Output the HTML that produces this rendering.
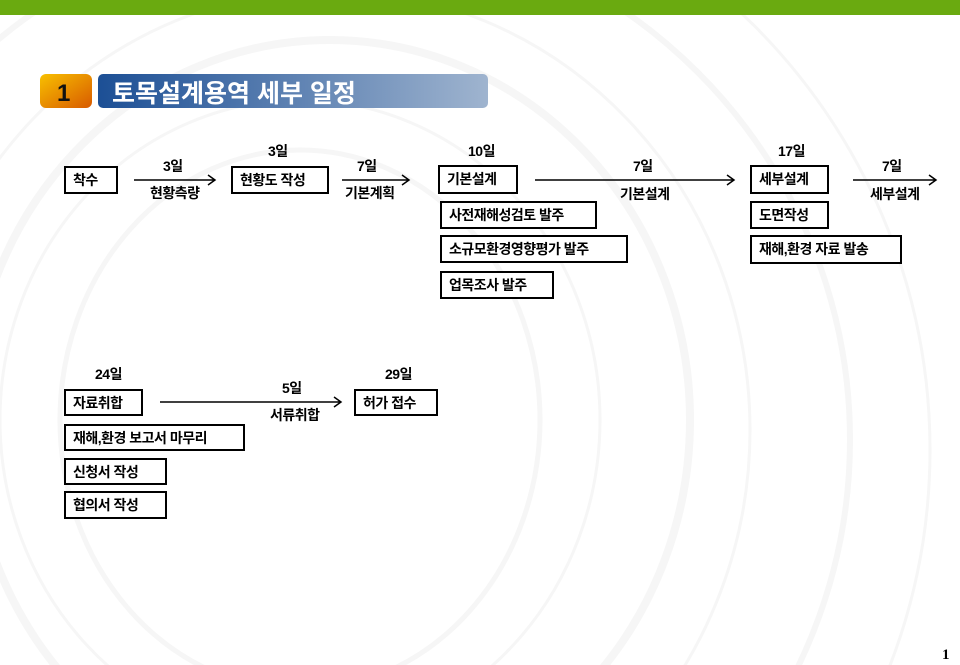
<!DOCTYPE html>
<html><head><meta charset="utf-8"><style>
html,body{margin:0;width:960px;height:665px;overflow:hidden}
body{position:relative;background:#fff;font-family:"Liberation Sans","Noto Sans CJK KR","NanumGothic",sans-serif;}
.b{position:absolute;border:2px solid #000;box-sizing:border-box;font-weight:bold;font-size:14px;line-height:24px;padding-left:7px;color:#000;background:#fff;white-space:nowrap;letter-spacing:-0.5px}
.t{position:absolute;font-weight:bold;font-size:14px;line-height:16px;color:#000;white-space:nowrap;letter-spacing:-0.5px}
</style></head><body>
<svg width="960" height="665" style="position:absolute;left:0;top:0">
<g fill="none" stroke="#f6f6f6">
<ellipse cx="300" cy="420" rx="240" ry="270" stroke-width="5"/>
<ellipse cx="300" cy="420" rx="300" ry="320" stroke-width="3"/>
<ellipse cx="330" cy="420" rx="360" ry="380" stroke-width="8"/>
<ellipse cx="330" cy="430" rx="420" ry="440" stroke-width="3"/>
<ellipse cx="330" cy="440" rx="520" ry="520" stroke-width="6"/>
<ellipse cx="330" cy="450" rx="600" ry="600" stroke-width="3"/>
</g>
<rect x="0" y="0" width="960" height="15" fill="#6aaa10"/>
<defs>
<linearGradient id="o" x1="0" y1="0" x2="1" y2="1"><stop offset="0" stop-color="#f8c000"/><stop offset="1" stop-color="#d85a00"/></linearGradient>
<linearGradient id="bl" x1="0" x2="1"><stop offset="0" stop-color="#1c4f95"/><stop offset="1" stop-color="#9fb4cf"/></linearGradient>
</defs>
<rect x="40" y="74" width="52" height="34" rx="6" fill="url(#o)"/>
<rect x="98" y="74" width="390" height="34" rx="5" fill="url(#bl)"/>
<text x="57" y="101" font-family="Liberation Sans" font-weight="bold" font-size="24" fill="#111">1</text>
<text x="112" y="102" font-family="Liberation Sans,Noto Sans CJK KR,sans-serif" font-weight="bold" font-size="25" fill="#fff">토목설계용역 세부 일정</text>
<g stroke="#000" stroke-width="1.5" fill="none">
<path d="M134 180H214M208 175L215 180L208 185"/>
<path d="M342 180H408M402 175L409 180L402 185"/>
<path d="M535 180H733M727 175L734 180L727 185"/>
<path d="M853 180H935M929 175L936 180L929 185"/>
<path d="M160 402H340M334 397L341 402L334 407"/>
</g>
</svg>
<div class="b" style="left:64px;top:166px;width:54px;height:28px">착수</div>
<div class="b" style="left:231px;top:166px;width:98px;height:28px">현황도 작성</div>
<div class="b" style="left:438px;top:165px;width:80px;height:29px">기본설계</div>
<div class="b" style="left:440px;top:201px;width:157px;height:28px">사전재해성검토 발주</div>
<div class="b" style="left:440px;top:235px;width:188px;height:28px">소규모환경영향평가 발주</div>
<div class="b" style="left:440px;top:271px;width:114px;height:28px">업목조사 발주</div>
<div class="b" style="left:750px;top:165px;width:79px;height:29px">세부설계</div>
<div class="b" style="left:750px;top:201px;width:79px;height:28px">도면작성</div>
<div class="b" style="left:750px;top:235px;width:152px;height:29px">재해,환경 자료 발송</div>
<div class="b" style="left:64px;top:389px;width:79px;height:27px">자료취합</div>
<div class="b" style="left:354px;top:389px;width:84px;height:27px">허가 접수</div>
<div class="b" style="left:64px;top:424px;width:181px;height:27px">재해,환경 보고서 마무리</div>
<div class="b" style="left:64px;top:458px;width:103px;height:27px">신청서 작성</div>
<div class="b" style="left:64px;top:491px;width:103px;height:28px">협의서 작성</div>
<div class="t" style="left:163px;top:158px">3일</div>
<div class="t" style="left:150px;top:185px">현황측량</div>
<div class="t" style="left:268px;top:143px">3일</div>
<div class="t" style="left:357px;top:158px">7일</div>
<div class="t" style="left:345px;top:185px">기본계획</div>
<div class="t" style="left:468px;top:143px">10일</div>
<div class="t" style="left:633px;top:158px">7일</div>
<div class="t" style="left:620px;top:186px">기본설계</div>
<div class="t" style="left:778px;top:143px">17일</div>
<div class="t" style="left:882px;top:158px">7일</div>
<div class="t" style="left:870px;top:186px">세부설계</div>
<div class="t" style="left:95px;top:366px">24일</div>
<div class="t" style="left:282px;top:380px">5일</div>
<div class="t" style="left:270px;top:407px">서류취합</div>
<div class="t" style="left:385px;top:366px">29일</div>
<div class="t" style="left:942px;top:647px;font-family:'Liberation Serif',serif;font-size:15px">1</div>
</body></html>
